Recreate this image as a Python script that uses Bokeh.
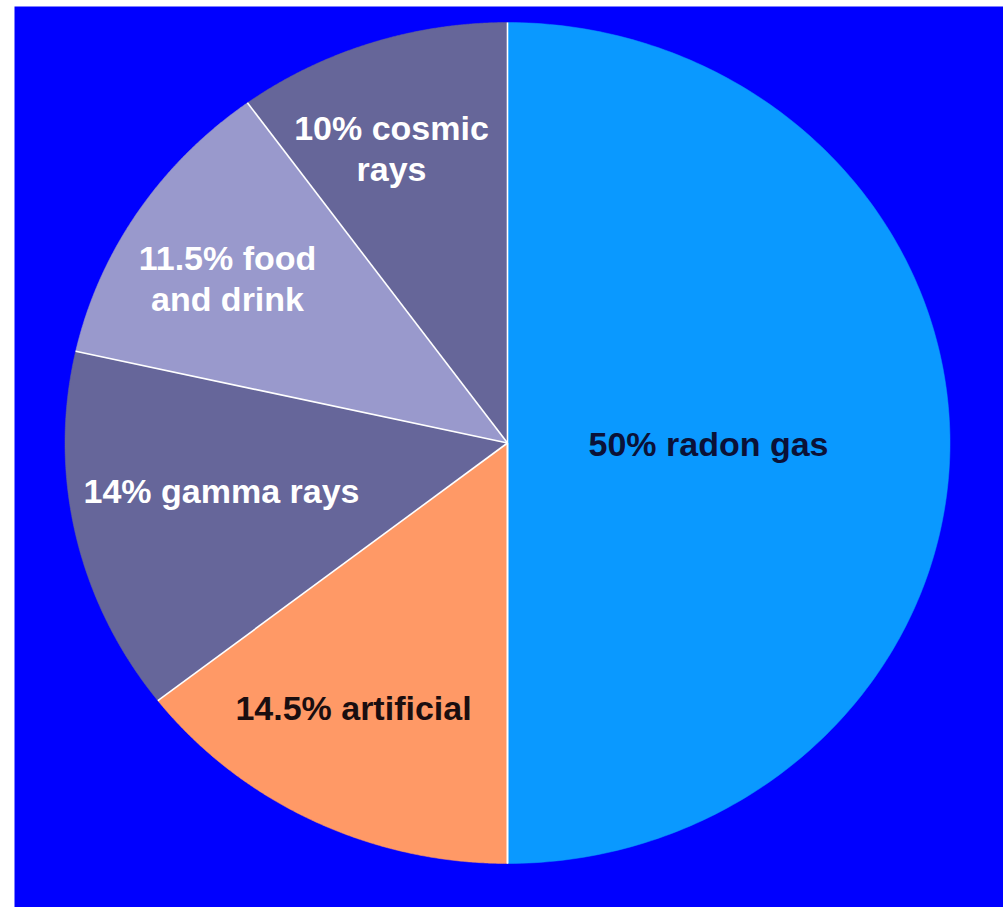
import numpy as np
from bokeh.plotting import figure
from bokeh.models import Range1d, ColumnDataSource
from bokeh.core.properties import value
from bokeh.embed import file_html
from bokeh.resources import INLINE

# ---- data ----
sources = ["radon gas", "artificial", "gamma rays", "food and drink", "cosmic rays"]
shares = [50, 14.5, 14, 11.5, 10]
label_texts = ["50% radon gas", "14.5% artificial", "14% gamma rays",
               "11.5% food\nand drink", "10% cosmic\nrays"]

# ---- styles / layout ----
slice_colors = ["#0A99FF", "#FF9966", "#66669A", "#9999CC", "#666699"]
label_colors = ["#0B1238", "#1A0E10", "#FFFFFF", "#FFFFFF", "#FFFFFF"]
label_pos = [(708, 443), (353, 707), (221, 490), (227, 278), (391, 148)]
W, H = 1003, 907
cx, cy, rx, ry = 507.0, 442.5, 442.5, 420.5
start_deg = 90.0  # first slice starts at the top, going clockwise

p = figure(width=W, height=H, output_backend="svg", toolbar_location=None,
           x_range=Range1d(0, W), y_range=Range1d(H, 0), min_border=0)
p.axis.visible = False
p.grid.visible = False
p.outline_line_color = None
p.background_fill_color = "white"
p.border_fill_color = "white"

# blue panel
p.quad(left=14, right=W, top=6, bottom=H, fill_color="#0000FF", line_color=None)

# pie slices (clockwise from top) on an ellipse
total = float(sum(shares))
xs, ys, bx, by = [], [], [], []
a0 = start_deg
for s in shares:
    sweep = 360.0 * s / total
    a1 = a0 - sweep
    t = np.radians(np.linspace(a0, a1, 200))
    px = np.concatenate([[cx], cx + rx * np.cos(t), [cx]])
    py = np.concatenate([[cy], cy - ry * np.sin(t), [cy]])
    xs.append(list(px))
    ys.append(list(py))
    bx.append(cx + rx * np.cos(np.radians(a0)))
    by.append(cy - ry * np.sin(np.radians(a0)))
    a0 = a1

src = ColumnDataSource(dict(xs=xs, ys=ys, color=slice_colors, name=sources))
p.patches("xs", "ys", source=src, fill_color="color", line_color="color",
          line_width=0.5)

# white separators between slices
p.segment(x0=[cx] * len(bx), y0=[cy] * len(by), x1=bx, y1=by,
          line_color="white", line_width=1.6)
# vertical line bottom (end of radon slice)
p.segment(x0=[cx], y0=[cy], x1=[cx], y1=[cy + ry], line_color="white", line_width=1.6)

# labels
lsrc = ColumnDataSource(dict(x=[q[0] for q in label_pos], y=[q[1] for q in label_pos],
                             text=label_texts, color=label_colors))
p.text(x="x", y="y", text="text", source=lsrc, text_color="color",
       text_font=value("Liberation Sans"), text_font_style="bold",
       text_font_size="34px", text_align="center", text_baseline="middle",
       text_line_height=1.08)

open("out.html", "w").write(file_html(p, INLINE))
